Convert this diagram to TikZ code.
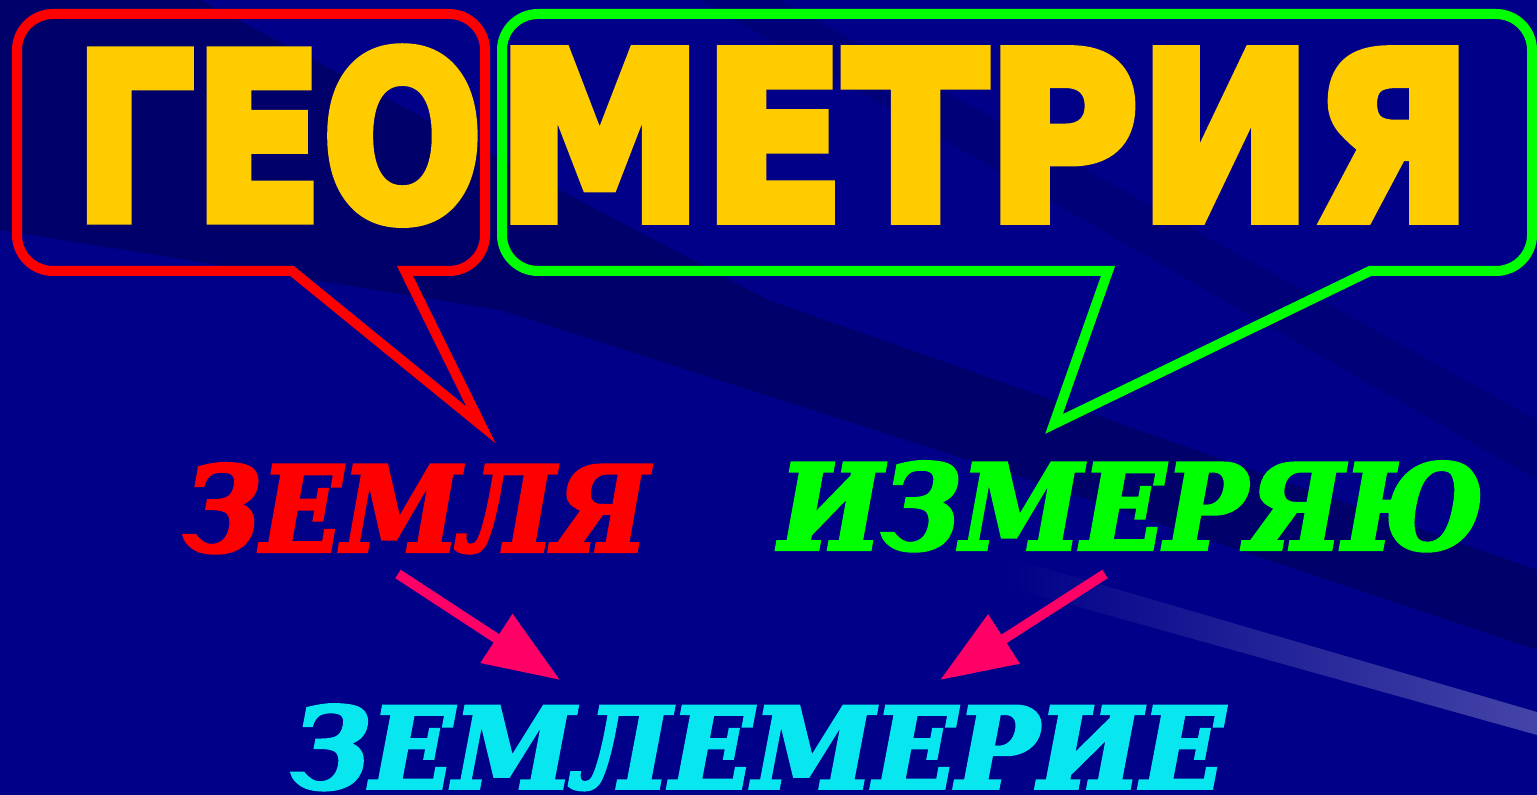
\documentclass[tikz,border=0pt]{standalone}
\usepackage{fontspec}
\usepackage{graphicx}
\usepackage{tikz}
\usetikzlibrary{arrows.meta,positioning}
\newfontfamily\posterfont[FakeBold=5]{DejaVu Sans Bold}
\newfontfamily\slabfont[FakeBold=3.5]{DejaVu Serif Bold Italic}
\definecolor{bgnavy}{HTML}{000088}
\definecolor{bgdark}{HTML}{00006A}
\definecolor{bglight}{HTML}{4444A8}
\definecolor{titleyel}{HTML}{FFCC00}
\definecolor{bubred}{HTML}{FF0000}
\definecolor{bubgreen}{HTML}{00FF00}
\definecolor{wordcyan}{HTML}{08E6F0}
\definecolor{arrowpink}{HTML}{FF0066}
\tikzset{
  titlebox/.style={inner sep=0pt,anchor=base west,text=titleyel,font=\posterfont},
  wordbox/.style={inner sep=0pt,anchor=base west,font=\slabfont},
  bubble/.style={line width=5pt,line join=miter,miter limit=12},
  pointer/.style={draw=arrowpink,line width=5pt,-{Triangle[length=38pt,width=28pt]}},
}

\begin{document}
\begin{tikzpicture}[x=0.5pt,y=-0.5pt]
  \useasboundingbox (0,0) rectangle (1537,795);

  % ---- background ----
  \fill[bgnavy] (0,0) rectangle (1537,795);
  \fill[bgdark] (0,0) -- (200,0) -- (768,300) -- (1537,570) -- (1537,650)
    -- (1000,470) -- (500,310) -- (0,230) -- cycle;
  \fill[bgdark,opacity=0.5] (700,0) -- (780,0) -- (1537,420) -- (1537,480) -- cycle;
  \shade[left color=bgnavy,right color=bglight] (1000,555) -- (1537,712) -- (1537,735) -- (1000,585) -- cycle;

  % ---- title ----
  \node[titlebox] (geo) at (74,219) {\resizebox{204pt}{85pt}{ГЕО}};
  \node[titlebox] (metria) at (496,219) {\resizebox{488pt}{84pt}{МЕТРИЯ}};

  % ---- speech bubbles ----
  \draw[bubble,bubred] (17,150) [rounded corners=18pt] -- (17,271)
    [sharp corners] -- (292,271) -- (481,425) -- (405,271)
    [rounded corners=18pt] -- (485,271) -- (485,14) -- (17,14) -- cycle;
  \draw[bubble,bubgreen] (502,150) [rounded corners=18pt] -- (502,14) -- (1532,14)
    -- (1532,271) [sharp corners] -- (1370,271) -- (1054,424) -- (1108,271)
    [rounded corners=18pt] -- (502,271) -- cycle;

  % ---- words ----
  \node[wordbox,text=bubred] (zemlya) at (184,551) {\resizebox{232pt}{43.5pt}{ЗЕМЛЯ}};
  \node[wordbox,text=bubgreen] (izmeryayu) at (779,549) {\resizebox{352pt}{43.5pt}{ИЗМЕРЯЮ}};
  \node[wordbox,text=wordcyan] (zemlemerie) at (292,788) {\resizebox{466pt}{41.5pt}{ЗЕМЛЕМЕРИЕ}};

  % ---- arrows ----
  \coordinate (zemlyaout) at (398,574);
  \coordinate (zemlemeriein) at (560,680);
  \coordinate (izmeryayuout) at (1105,574);
  \coordinate (zemlemeriein2) at (940,680);
  \draw[pointer] (zemlyaout) -- (zemlemeriein);
  \draw[pointer] (izmeryayuout) -- (zemlemeriein2);
\end{tikzpicture}
\end{document}
